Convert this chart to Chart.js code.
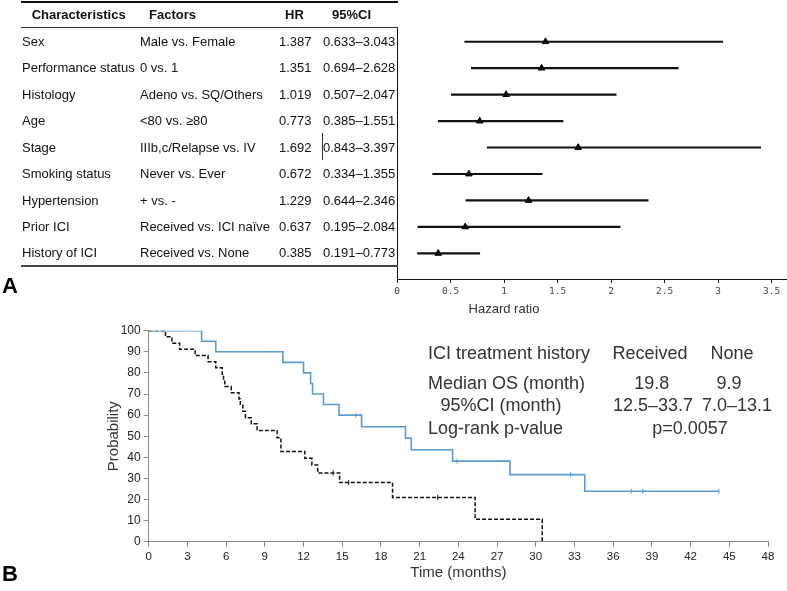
<!DOCTYPE html>
<html><head><meta charset="utf-8">
<script src="https://cdn.jsdelivr.net/npm/chart.js@4"></script>
<style>
html,body{margin:0;padding:0;background:#fff;}
body{width:787px;height:591px;position:relative;overflow:hidden;font-family:"Liberation Sans",Arial,sans-serif;}
canvas{position:absolute;left:0;}
.t{position:absolute;font-size:13px;line-height:14px;color:#111;white-space:nowrap;z-index:2;}
.h{font-weight:bold;}
.k{position:absolute;font-size:18px;line-height:20px;color:#333;white-space:nowrap;z-index:2;}
.ln{position:absolute;z-index:2;}
.big{position:absolute;font-size:22px;line-height:22px;font-weight:bold;color:#000;z-index:2;}
</style></head>
<body>
<canvas id="forest" width="787" height="315" style="top:0"></canvas>
<canvas id="km" width="787" height="276" style="top:315px"></canvas>
<div id="overlay"></div>
<script>
// ---- Panel A: forest plot data ----
const characteristics = ["Sex","Performance status","Histology","Age","Stage","Smoking status","Hypertension","Prior ICI","History of ICI"];
const factors = ["Male vs. Female","0 vs. 1","Adeno vs. SQ/Others","<80 vs. \u226580","IIIb,c/Relapse vs. IV","Never vs. Ever","+ vs. -","Received vs. ICI na\u00efve","Received vs. None"];
const hazardRatio = [1.387,1.351,1.019,0.773,1.692,0.672,1.229,0.637,0.385];
const ciLower = [0.633,0.694,0.507,0.385,0.843,0.334,0.644,0.195,0.191];
const ciUpper = [3.043,2.628,2.047,1.551,3.397,1.355,2.346,2.084,0.773];
const tableHeaders = ["Characteristics","Factors","HR","95%CI"];
const hrTicks = [0,0.5,1,1.5,2,2.5,3,3.5];

// ---- Panel B: Kaplan-Meier data ----
const receivedTime = [0,4.1,5.2,10.4,12.0,12.55,12.7,13.55,14.75,16.5,19.9,20.35,23.55,28.0,33.8,44.2];
const receivedSurv = [100,95,90,85,80,75,70,65,60,54.5,49.1,43.6,38.2,31.8,23.9,23.9];
const receivedCensorTime = [16.05,23.9,32.7,37.4,38.3,44.2];
const receivedCensorSurv = [60,38.2,31.8,23.9,23.9,23.9];
const noneTime = [0,1.3,1.8,2.4,3.6,4.6,5.2,5.7,5.8,5.9,6.4,7.0,7.1,7.3,7.5,7.95,8.4,9.95,10.25,12.1,12.65,13.1,14.8,18.9,25.3,30.5];
const noneSurv = [100,97.1,94.1,91.2,88.2,85.3,82.4,79.4,76.5,73.5,70.6,67.6,64.7,61.8,58.8,55.9,52.7,49.3,42.8,39.5,36.3,32.6,28.0,21.0,10.6,0];
const noneCensorTime = [14.3,15.5,22.4];
const noneCensorSurv = [32.6,28.0,21.0];
const summaryHeader = ["ICI treatment history","Received","None"];
const summaryMedian = ["Median OS (month)","19.8","9.9"];
const summaryCI = ["95%CI (month)","12.5\u201333.7","7.0\u201313.1"];
const summaryLogrank = ["Log-rank p-value","p=0.0057"];

// ---- overlay text ----
const ov = document.getElementById('overlay');
function add(cls, text, left, top, extra){
  const d=document.createElement('div'); d.className=cls; d.textContent=text;
  d.style.left=left+'px'; d.style.top=top+'px';
  if(extra) Object.assign(d.style, extra);
  ov.appendChild(d); return d;
}
function line(left, top, w, h, color){
  const d=document.createElement('div'); d.className='ln';
  Object.assign(d.style,{left:left+'px',top:top+'px',width:w+'px',height:h+'px',background:color});
  ov.appendChild(d);
}
const cx = {transform:'translateX(-50%)'};
// table
const colX = [31.7,149,285,332];
tableHeaders.forEach((h,i)=>add('t h',h,colX[i],15-6.85));
const rowY0 = 41.7, rowStep = 26.45;
characteristics.forEach((c,i)=>{
  const top = rowY0 + i*rowStep - 6.85;
  add('t',c,22,top);
  add('t',factors[i],140,top);
  add('t',hazardRatio[i].toFixed(3),279,top);
  add('t',ciLower[i].toFixed(3)+'\u2013'+ciUpper[i].toFixed(3),323,top);
});
line(20.5,1,377,2,'#111');
line(20.5,26.5,377,1,'#333');
line(20.5,265,377,1.5,'#444');
line(321.5,133,1.5,27,'#333');
add('big','A',2,275);
add('big','B',2,563);
add('t','Hazard ratio',504,302,{transform:'translateX(-50%)',color:'#333'});
// KM summary
add('k',summaryHeader[0],428,353-9.8);
add('k',summaryHeader[1],650,353-9.8,cx);
add('k',summaryHeader[2],732,353-9.8,cx);
add('k',summaryMedian[0],428,382.8-9.8);
add('k',summaryMedian[1],651.7,382.8-9.8,cx);
add('k',summaryMedian[2],729,382.8-9.8,cx);
add('k',summaryCI[0],501,404.5-9.8,cx);
add('k',summaryCI[1],653,404.5-9.8,cx);
add('k',summaryCI[2],737,404.5-9.8,cx);
add('k',summaryLogrank[0],428,427.8-9.8);
add('k',summaryLogrank[1],690,427.8-9.8,cx);

// ---- forest chart ----
new Chart(document.getElementById('forest'), {
  type:'bar',
  data:{datasets:[
    {type:'bar', indexAxis:'y', data: ciLower.map((lo,i)=>({y:i+1, x:[lo,ciUpper[i]]})),
     backgroundColor:'#111', borderWidth:0, barThickness:1.5},
    {type:'scatter', data: hazardRatio.map((v,i)=>({x:v,y:i+1})),
     pointStyle:'triangle', pointRadius:3.8, pointBorderWidth:1,
     pointBackgroundColor:'#000', pointBorderColor:'#000'}
  ]},
  options:{
    responsive:false, animation:false,
    plugins:{legend:{display:false}, tooltip:{enabled:false}},
    layout:{autoPadding:false, padding:{left:397, top:27, right:0, bottom:0}},
    scales:{
      x:{type:'linear', min:0, max:3.643, offset:false,
        afterBuildTicks(s){ s.ticks = hrTicks.map(v=>({value:v})); },
        ticks:{color:'#444', padding:3, font:{family:'"DejaVu Sans Mono", monospace', size:9.5},
          callback:(v)=>String(v)},
        grid:{drawOnChartArea:false, tickLength:4, color:'#222', offset:false},
        border:{color:'#111', width:1},
        afterFit(s){ s.height = 36; s.paddingRight = 0; }
      },
      y:{type:'linear', reverse:true, min:0.444, max:9.97, offset:false,
        ticks:{display:false}, grid:{display:false, drawTicks:false, offset:false},
        border:{color:'#111', width:1},
        afterFit(s){ s.width = 0; }
      }
    }
  }
});

// ---- KM chart ----
new Chart(document.getElementById('km'), {
  type:'line',
  data:{datasets:[
    {data: receivedTime.map((t,i)=>({x:t,y:receivedSurv[i]})), stepped:'before',
     borderColor:'#5b9bd5', borderWidth:1.6, pointRadius:0, fill:false},
    {type:'scatter', data: receivedCensorTime.map((t,i)=>({x:t,y:receivedCensorSurv[i]})),
     pointStyle:'line', rotation:90, pointRadius:2.5, pointBorderColor:'#5b9bd5', pointBorderWidth:1},
    {data: noneTime.map((t,i)=>({x:t,y:noneSurv[i]})), stepped:'before',
     borderColor:'#111', borderWidth:1.5, borderDash:[4,2], pointRadius:0, fill:false},
    {type:'scatter', data: noneCensorTime.map((t,i)=>({x:t,y:noneCensorSurv[i]})),
     pointStyle:'line', rotation:90, pointRadius:2.5, pointBorderColor:'#111', pointBorderWidth:1}
  ]},
  options:{
    responsive:false, animation:false,
    plugins:{legend:{display:false}, tooltip:{enabled:false}},
    layout:{autoPadding:false, padding:{left:104.5, top:15.7, right:19, bottom:0}},
    scales:{
      x:{type:'linear', min:0, max:48,
        ticks:{stepSize:3, color:'#222', padding:3, font:{family:'"Liberation Sans", Arial', size:11.5}},
        grid:{drawOnChartArea:false, tickLength:5, color:'#888'},
        border:{color:'#888', width:1},
        title:{display:true, text:'Time (months)', color:'#333', font:{family:'"Liberation Sans", Arial', size:15}, padding:{top:0,bottom:9}},
        afterFit(s){ s.height = 276-226.7; }
      },
      y:{type:'linear', min:0, max:100,
        ticks:{stepSize:10, color:'#222', padding:3, font:{family:'"Liberation Sans", Arial', size:12}},
        grid:{drawOnChartArea:false, tickLength:5, color:'#888'},
        border:{color:'#888', width:1},
        title:{display:true, text:'Probability', color:'#333', font:{family:'"Liberation Sans", Arial', size:15}, padding:{top:0,bottom:0}},
        afterFit(s){ s.width = 148.7-104.5; }
      }
    }
  }
});
</script>
</body></html>
